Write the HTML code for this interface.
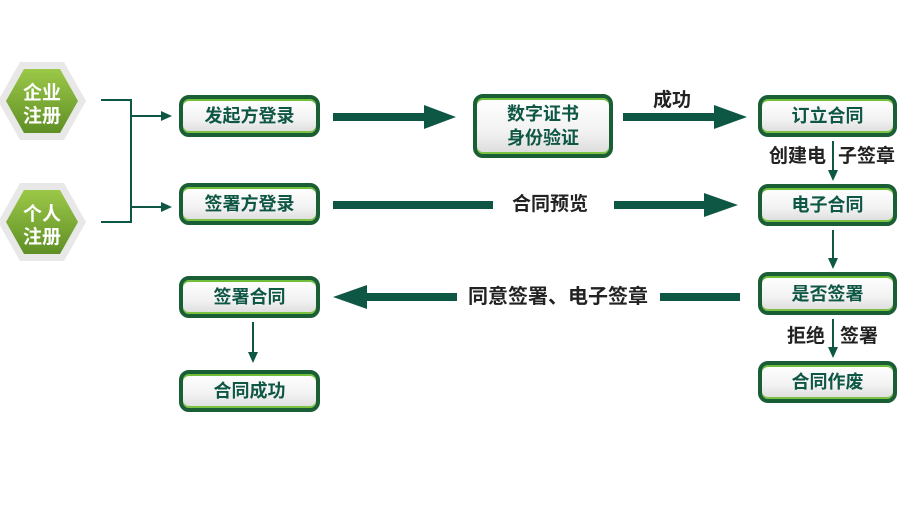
<!DOCTYPE html>
<html><head><meta charset="utf-8"><style>
body{margin:0;width:900px;height:510px;background:#fff;position:relative;overflow:hidden;font-family:"Liberation Sans","Noto Sans CJK SC",sans-serif;}
.b{position:absolute;box-sizing:border-box;border:4px solid #1a5e35;border-radius:10px;background:linear-gradient(#fff,#f2f2f2 60%,#dcdcdc);color:#0f5745;font-weight:bold;font-size:18px;display:flex;align-items:center;justify-content:center;text-align:center;line-height:24px;box-shadow:0 2px 0 #6fbf3a inset,0 -2px 0 #7cc242 inset;}
.t{position:absolute;font-weight:bold;font-size:19px;line-height:22px;color:#222;white-space:nowrap;}
</style></head><body>
<svg width="900" height="510" style="position:absolute;left:0;top:0">
<defs><linearGradient id="g" x1="0" y1="0" x2="0" y2="1"><stop offset="0" stop-color="#9cc848"/><stop offset="1" stop-color="#5f8f25"/></linearGradient></defs>
<g>
<polygon points="20,62 64,62 86,101 64,140 20,140 -2,101" fill="#e8e8e8"/>
<polygon points="24,69 60,69 78,101 60,133 24,133 6,101" fill="url(#g)"/>
<polygon points="20,183 64,183 86,222 64,261 20,261 -2,222" fill="#e8e8e8"/>
<polygon points="24,190 60,190 78,222 60,254 24,254 6,222" fill="url(#g)"/>
</g>
<g stroke="#0f5745" stroke-width="2" fill="none">
<polyline points="101,100 131,100 131,222 101,222"/>
<line x1="131" y1="116" x2="162" y2="116"/><line x1="131" y1="207" x2="162" y2="207"/>
<line x1="253" y1="322" x2="253" y2="355"/>
<line x1="833" y1="141" x2="833" y2="172"/>
<line x1="833" y1="230" x2="833" y2="260"/>
<line x1="833" y1="319" x2="833" y2="350"/>
</g>
<g fill="#0f5745">
<polygon points="172,116 161,111 161,121"/><polygon points="172,207 161,202 161,212"/>
<polygon points="253,363 248,352 258,352"/>
<polygon points="833,181 828,170 838,170"/><polygon points="833,269 828,258 838,258"/><polygon points="833,358 828,347 838,347"/>
<rect x="333" y="113" width="95" height="8"/><polygon points="424,105 456,117 424,129"/>
<rect x="623" y="113" width="95" height="8"/><polygon points="714,105 747,117 714,129"/>
<rect x="333" y="201" width="160" height="8"/>
<rect x="614" y="201" width="94" height="8"/><polygon points="704,193 738,205 704,217"/>
<polygon points="333,297 367,285 367,309"/><rect x="365" y="293" width="92" height="8"/>
<rect x="660" y="293" width="80" height="8"/>
</g>
<g font-family="Liberation Sans,Noto Sans CJK SC,sans-serif" font-weight="bold" font-size="19" fill="#fff" text-anchor="middle">
<text x="42" y="99">企业</text><text x="42" y="122">注册</text>
<text x="42" y="220">个人</text><text x="42" y="243">注册</text>
</g>
</svg>
<div class="b" style="left:179px;top:95px;width:141px;height:42px">发起方登录</div>
<div class="b" style="left:179px;top:183px;width:141px;height:42px">签署方登录</div>
<div class="b" style="left:473px;top:94px;width:140px;height:64px">数字证书<br>身份验证</div>
<div class="b" style="left:758px;top:95px;width:139px;height:42px">订立合同</div>
<div class="b" style="left:758px;top:184px;width:139px;height:42px">电子合同</div>
<div class="b" style="left:758px;top:272px;width:139px;height:43px">是否签署</div>
<div class="b" style="left:758px;top:361px;width:139px;height:42px">合同作废</div>
<div class="b" style="left:179px;top:276px;width:141px;height:42px">签署合同</div>
<div class="b" style="left:179px;top:370px;width:141px;height:42px">合同成功</div>
<div class="t" style="left:653px;top:90px">成功</div>
<div class="t" style="left:769px;top:146px">创建电</div>
<div class="t" style="left:838px;top:146px">子签章</div>
<div class="t" style="left:512px;top:194px">合同预览</div>
<div class="t" style="left:468px;top:286px;font-size:20px">同意签署、电子签章</div>
<div class="t" style="left:787px;top:326px">拒绝</div>
<div class="t" style="left:840px;top:326px">签署</div>
</body></html>
